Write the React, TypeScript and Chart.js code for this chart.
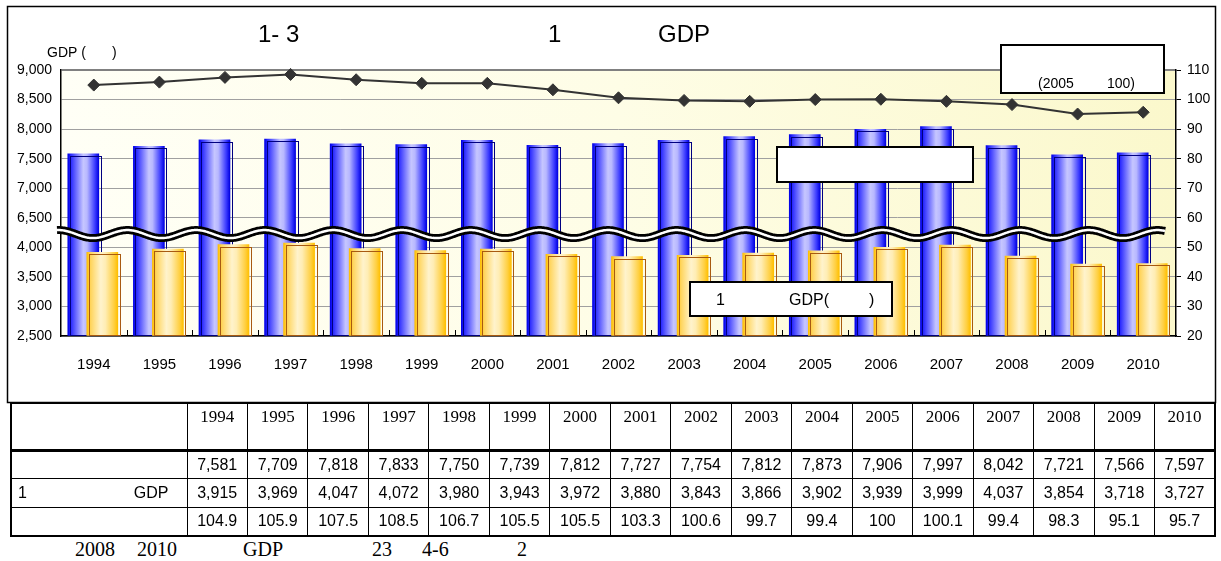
import React, { useEffect, useRef } from 'react';
import { Chart, registerables } from 'chart.js';

Chart.register(...registerables);

// ---------------- data ----------------
const YEARS = ['1994', '1995', '1996', '1997', '1998', '1999', '2000', '2001', '2002', '2003', '2004', '2005', '2006', '2007', '2008', '2009', '2010'];
const NOMINAL_GDP = [7581, 7709, 7818, 7833, 7750, 7739, 7812, 7727, 7754, 7812, 7873, 7906, 7997, 8042, 7721, 7566, 7597];
const PER_CAPITA_GDP = [3915, 3969, 4047, 4072, 3980, 3943, 3972, 3880, 3843, 3866, 3902, 3939, 3999, 4037, 3854, 3718, 3727];
const GDP_INDEX = [104.9, 105.9, 107.5, 108.5, 106.7, 105.5, 105.5, 103.3, 100.6, 99.7, 99.4, 100, 100.1, 99.4, 98.3, 95.1, 95.7];
const LEFT_TICK_LABELS = [2500, 3000, 3500, 4000, 6500, 7000, 7500, 8000, 8500, 9000];
const RIGHT_TICKS = [20, 30, 40, 50, 60, 70, 80, 90, 100, 110];

// broken axis: everything from 6,500 upward is drawn 2,000 lower
const BREAK_FROM = 6500;
const BREAK_SHIFT = 2000;
const toAxis = (v: number) => (v >= BREAK_FROM ? v - BREAK_SHIFT : v);

// ---------------- styles ----------------
const BAR_W = 31;
const BLUE_SHIFT = -0.16;
const ORANGE_SHIFT = 0.13;
const SANS = "'Liberation Sans', Arial, sans-serif";
const SERIF = "'Liberation Serif', 'Times New Roman', serif";

const BLUE_STOPS: [number, string][] = [
  [0, '#0000e6'], [0.1, '#2a2aff'], [0.5, '#c6c6ff'], [0.62, '#b8b8ff'], [0.88, '#3a3aff'], [1, '#0000e0'],
];
const ORANGE_STOPS: [number, string][] = [
  [0, '#ffbf00'], [0.12, '#ffd45a'], [0.45, '#fff3cc'], [0.6, '#ffedb4'], [0.88, '#ffcf40'], [1, '#ffbf00'],
];

const fmt = (v: number) => v.toLocaleString('en-US');

function barGradient(c: any, shift: number, stops: [number, string][]) {
  const chart = c.chart;
  const xs = chart.scales && chart.scales.xb;
  if (!xs || !chart.chartArea || c.dataIndex === undefined) return stops[2][1];
  const cx = xs.getPixelForValue(c.dataIndex + shift);
  const g = chart.ctx.createLinearGradient(cx - BAR_W / 2, 0, cx + BAR_W / 2, 0);
  stops.forEach(([o, col]) => g.addColorStop(o, col));
  return g;
}

const decorations = {
  id: 'decorations',
  beforeDraw(chart: any) {
    const { ctx, chartArea: a } = chart;
    ctx.save();
    ctx.fillStyle = '#ffffff';
    ctx.fillRect(0, 0, chart.width, chart.height);
    const g = ctx.createLinearGradient(a.left, 0, a.right, 0);
    g.addColorStop(0, '#fffff6');
    g.addColorStop(0.5, '#fefde6');
    g.addColorStop(1, '#fbf8cc');
    ctx.fillStyle = g;
    ctx.fillRect(a.left, a.top, a.right - a.left, a.bottom - a.top);
    ctx.strokeStyle = '#000';
    ctx.lineWidth = 1.5;
    ctx.strokeRect(7.5, 6.5, 1208, 396);
    ctx.restore();
  },
  afterDatasetDraw(chart: any, args: any) {
    const ds = chart.data.datasets[args.index];
    if (!ds.outlineColor) return;
    const { ctx, chartArea: a } = chart;
    ctx.save();
    ctx.beginPath();
    ctx.rect(a.left, a.top, a.right - a.left, a.bottom - a.top);
    ctx.clip();
    ctx.strokeStyle = ds.outlineColor;
    ctx.lineWidth = 1;
    args.meta.data.forEach((el: any) => {
      const p = el.getProps(['x', 'y', 'base', 'width'], true);
      const left = Math.round(p.x - p.width / 2) + 2.5;
      const top = Math.round(p.y) + 2.5;
      ctx.strokeRect(left, top, p.width, p.base - top);
    });
    ctx.restore();
  },
  afterDatasetsDraw(chart: any) {
    const { ctx, chartArea: a, scales } = chart;
    // inner tick marks between categories
    const xs = scales.x;
    ctx.save();
    ctx.strokeStyle = '#000';
    ctx.lineWidth = 1;
    for (let i = 1; i < YEARS.length; i++) {
      const px = Math.round((xs.getPixelForValue(i - 1) + xs.getPixelForValue(i)) / 2) + 0.5;
      ctx.beginPath();
      ctx.moveTo(px, a.bottom - 6);
      ctx.lineTo(px, a.bottom);
      ctx.stroke();
    }
    // axis break wave
    const ys = scales.y;
    const yc = (ys.getPixelForValue(4000) + ys.getPixelForValue(4500)) / 2 + 1.5;
    const x0 = a.left - 4;
    const x1 = a.right - 11;
    const period = 68.67;
    const phase = a.left + 32;
    const path = () => {
      ctx.beginPath();
      for (let x = x0; x <= x1; x += 1) {
        const y = yc + 4 * Math.cos((2 * Math.PI * (x - phase)) / period);
        if (x === x0) ctx.moveTo(x, y);
        else ctx.lineTo(x, y);
      }
    };
    ctx.lineJoin = 'round';
    ctx.strokeStyle = '#000';
    ctx.lineWidth = 8;
    path();
    ctx.stroke();
    ctx.strokeStyle = '#fff';
    ctx.lineWidth = 2.5;
    path();
    ctx.stroke();
    ctx.restore();
  },
  afterDraw(chart: any) {
    const { ctx } = chart;
    ctx.save();
    ctx.fillStyle = '#000';
    ctx.textBaseline = 'alphabetic';
    // title
    ctx.font = `24px ${SANS}`;
    ctx.textAlign = 'left';
    ctx.fillText('1- 3', 258, 42);
    ctx.fillText('1', 548, 42);
    ctx.fillText('GDP', 658, 42);
    // axis title
    ctx.font = `14px ${SANS}`;
    ctx.fillText('GDP (', 47, 57);
    ctx.fillText(')', 112, 57);
    // text boxes
    const box = (x: number, y: number, w: number, h: number) => {
      ctx.fillStyle = '#fff';
      ctx.fillRect(x, y, w, h);
      ctx.strokeStyle = '#000';
      ctx.lineWidth = 2;
      ctx.strokeRect(x, y, w, h);
      ctx.fillStyle = '#000';
    };
    box(1001, 45, 163, 48);
    ctx.font = `14px ${SANS}`;
    ctx.fillText('(2005', 1038, 88);
    ctx.fillText('100)', 1107, 88);
    box(777, 147, 196, 35);
    box(690, 282, 202, 34);
    ctx.font = `16px ${SANS}`;
    ctx.fillText('1', 716, 305);
    ctx.fillText('GDP(', 789, 305);
    ctx.fillText(')', 869, 305);
    ctx.restore();
  },
};

export default function App() {
  const ref = useRef<HTMLCanvasElement>(null);

  useEffect(() => {
    const canvas = ref.current;
    if (!canvas) return;
    const chart = new Chart(canvas, {
      type: 'bar',
      data: {
        labels: YEARS,
        datasets: [
          {
            type: 'line',
            label: 'index',
            data: GDP_INDEX.map((v, i) => ({ x: i, y: v })),
            xAxisID: 'xb',
            yAxisID: 'y2',
            order: 0,
            borderColor: '#333333',
            borderWidth: 2,
            pointStyle: 'rectRot',
            pointRadius: 6,
            pointBackgroundColor: '#333333',
            pointBorderColor: '#333333',
            pointBorderWidth: 1,
            tension: 0,
            clip: false,
          } as any,
          {
            type: 'bar',
            label: 'per capita',
            data: PER_CAPITA_GDP.map((v, i) => ({ x: i + ORANGE_SHIFT, y: toAxis(v) })),
            xAxisID: 'xb',
            yAxisID: 'y',
            order: 1,
            grouped: false,
            barThickness: BAR_W,
            base: 2500,
            borderWidth: 0,
            backgroundColor: (c: any) => barGradient(c, ORANGE_SHIFT, ORANGE_STOPS),
            outlineColor: '#a85a10',
          } as any,
          {
            type: 'bar',
            label: 'nominal',
            data: NOMINAL_GDP.map((v, i) => ({ x: i + BLUE_SHIFT, y: toAxis(v) })),
            xAxisID: 'xb',
            yAxisID: 'y',
            order: 2,
            grouped: false,
            barThickness: BAR_W,
            base: 2500,
            borderWidth: 0,
            backgroundColor: (c: any) => barGradient(c, BLUE_SHIFT, BLUE_STOPS),
            outlineColor: '#000080',
          } as any,
        ],
      },
      options: {
        responsive: false,
        animation: false,
        devicePixelRatio: 1,
        layout: { padding: { left: 6, right: 0, top: 70, bottom: 23 } },
        plugins: {
          legend: { display: false },
          tooltip: { enabled: false },
          title: { display: false },
        },
        scales: {
          x: {
            type: 'category',
            position: 'bottom',
            offset: true,
            grid: { display: false },
            border: { display: true, color: '#000', width: 1.5 },
            ticks: {
              font: { family: SANS, size: 15 },
              color: '#000',
              padding: 12,
              maxRotation: 0,
              autoSkip: false,
            },
            afterFit: (s: any) => { s.height = 45; },
          },
          xb: {
            type: 'linear',
            display: false,
            min: -0.5,
            max: 16.5,
            offset: false,
          },
          y: {
            type: 'linear',
            position: 'left',
            min: 2500,
            max: 7000,
            ticks: {
              stepSize: 500,
              callback: (_v: any, i: number) => fmt(LEFT_TICK_LABELS[i]),
              font: { family: SANS, size: 14 },
              color: '#000',
              padding: 9,
            },
            grid: {
              drawTicks: false,
              color: (c: any) => (c.tick && c.tick.value === 7000 ? '#808080' : '#a0a0a0'),
              lineWidth: (c: any) => (c.tick && c.tick.value === 7000 ? 2 : 1),
            },
            border: { color: '#000', width: 1.5 },
            afterFit: (s: any) => { s.width = 55; },
          },
          y2: {
            type: 'linear',
            position: 'right',
            min: RIGHT_TICKS[0],
            max: RIGHT_TICKS[RIGHT_TICKS.length - 1],
            ticks: {
              stepSize: 10,
              font: { family: SANS, size: 14 },
              color: '#000',
              padding: 6,
            },
            grid: { drawOnChartArea: false, color: '#000', tickLength: 5 },
            border: { color: '#000', width: 1.5 },
            afterFit: (s: any) => { s.width = 45; },
          },
        },
      } as any,
      plugins: [decorations],
    });
    return () => chart.destroy();
  }, []);

  const cell: React.CSSProperties = {
    border: '1px solid #000',
    textAlign: 'center',
    verticalAlign: 'middle',
    padding: 0,
    fontFamily: SANS,
    fontSize: 16,
    color: '#000',
    whiteSpace: 'nowrap',
  };
  const head: React.CSSProperties = {
    ...cell,
    verticalAlign: 'top',
    fontFamily: SERIF,
    fontSize: 17,
    paddingTop: 3,
    borderBottom: '3px solid #000',
  };

  const foot: [string, number][] = [
    ['2008', 75], ['2010', 137], ['GDP', 243], ['23', 372], ['4-6', 422], ['2', 517],
  ];

  return (
    <div style={{ position: 'absolute', left: 0, top: 0, width: 1221, height: 561, background: '#fff', overflow: 'hidden' }}>
      <canvas ref={ref} width={1221} height={404} style={{ position: 'absolute', left: 0, top: 0, width: 1221, height: 404 }} />
      <table
        style={{
          position: 'absolute',
          left: 10,
          top: 402,
          width: 1206,
          borderCollapse: 'collapse',
          tableLayout: 'fixed',
          border: '2px solid #000',
        }}
      >
        <colgroup>
          <col style={{ width: 176 }} />
          {YEARS.map((y) => <col key={y} />)}
        </colgroup>
        <tbody>
          <tr style={{ height: 47 }}>
            <td style={head}></td>
            {YEARS.map((y) => <td key={y} style={head}>{y}</td>)}
          </tr>
          <tr style={{ height: 28 }}>
            <td style={cell}></td>
            {NOMINAL_GDP.map((v, i) => <td key={i} style={cell}>{fmt(v)}</td>)}
          </tr>
          <tr style={{ height: 29 }}>
            <td style={{ ...cell, textAlign: 'left' }}>
              <div style={{ display: 'flex', justifyContent: 'space-between', padding: '0 18px 0 6px' }}>
                <span>1</span><span>GDP</span>
              </div>
            </td>
            {PER_CAPITA_GDP.map((v, i) => <td key={i} style={cell}>{fmt(v)}</td>)}
          </tr>
          <tr style={{ height: 29 }}>
            <td style={cell}></td>
            {GDP_INDEX.map((v, i) => <td key={i} style={cell}>{String(v)}</td>)}
          </tr>
        </tbody>
      </table>
      {foot.map(([t, x]) => (
        <div
          key={t}
          style={{ position: 'absolute', left: x, top: 539, fontFamily: SERIF, fontSize: 20, lineHeight: '20px', color: '#000', whiteSpace: 'nowrap' }}
        >
          {t}
        </div>
      ))}
    </div>
  );
}
